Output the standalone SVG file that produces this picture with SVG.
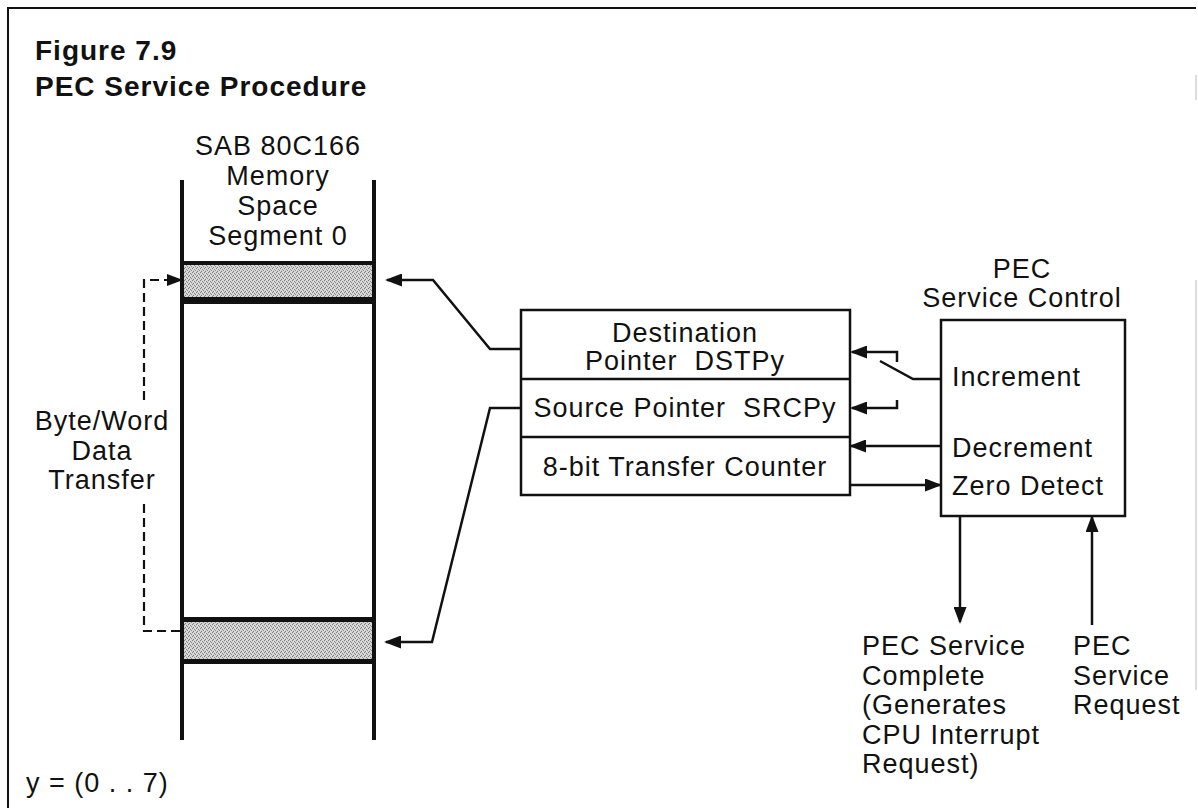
<svg xmlns="http://www.w3.org/2000/svg" width="1198" height="808" viewBox="0 0 1198 808">
<style>
  text { font-family: "Liberation Sans", Arial, Helvetica, sans-serif; font-size: 27px; letter-spacing: 1px; fill: #111; }
  .title { font-weight: bold; font-size: 28px; }
  .mid { text-anchor: middle; }
  .box { fill: #fff; stroke: #111; stroke-width: 2.5; }
  .col { stroke: #111; stroke-width: 4; fill: none; }
  .wire { stroke: #111; stroke-width: 2.5; fill: none; }
  .dash { stroke: #111; stroke-width: 2.2; fill: none; stroke-dasharray: 9 5; }
  .frame { stroke: #111; stroke-width: 2; fill: none; }
</style>
<defs>
  <pattern id="stipple" width="4" height="4" patternUnits="userSpaceOnUse">
    <rect width="4" height="4" fill="#d6d6d6"/>
    <rect x="0" y="0" width="1" height="1" fill="#7a7a7a"/>
    <rect x="2" y="1" width="1" height="1" fill="#8a8a8a"/>
    <rect x="1" y="3" width="1" height="1" fill="#7a7a7a"/>
    <rect x="3" y="2" width="1" height="1" fill="#8a8a8a"/>
  </pattern>
  <marker id="ah" viewBox="0 0 16 12" refX="14" refY="6" markerWidth="16" markerHeight="12" markerUnits="userSpaceOnUse" orient="auto">
    <path d="M0,0 L16,6 L0,12 Z" fill="#111"/>
  </marker>
  <marker id="ahs" viewBox="0 0 17 13" refX="15" refY="6.5" markerWidth="17" markerHeight="13" markerUnits="userSpaceOnUse" orient="auto">
    <path d="M0,0 L17,6.5 L0,13 Z" fill="#111"/>
  </marker>
</defs>
<rect width="1198" height="808" fill="#fff"/>

<g id="frame">
  <path class="frame" d="M8,808 V8 H1196"/>
  <path d="M1196,75 V100 M1196,280 V690" stroke="#bbb" stroke-width="1" fill="none"/>
</g>

<g id="title">
  <text class="title" x="35" y="60">Figure 7.9</text>
  <text class="title" x="35" y="96">PEC Service Procedure</text>
</g>

<g id="memory">
  <text class="mid" x="278" y="155">SAB 80C166</text>
  <text class="mid" x="278" y="185">Memory</text>
  <text class="mid" x="278" y="215">Space</text>
  <text class="mid" x="278" y="245">Segment 0</text>
  <rect x="182" y="265" width="192" height="32" fill="url(#stipple)"/>
  <rect x="182" y="622" width="192" height="37" fill="url(#stipple)"/>
  <path class="col" d="M182,180 V740 M374,180 V740"/>
  <path stroke="#111" stroke-width="4" d="M180,263 H376"/>
  <path stroke="#111" stroke-width="7" d="M180,300.5 H376"/>
  <path stroke="#111" stroke-width="5" d="M180,619.5 H376"/>
  <path stroke="#111" stroke-width="5" d="M180,661.5 H376"/>
</g>

<g id="transfer-label">
  <text class="mid" x="102" y="430">Byte/Word</text>
  <text class="mid" x="102" y="460">Data</text>
  <text class="mid" x="102" y="489">Transfer</text>
</g>

<g id="pointers">
  <rect class="box" x="521" y="310" width="329" height="185"/>
  <path class="wire" d="M521,379 H850 M521,437 H850"/>
  <text class="mid" x="685" y="342">Destination</text>
  <text class="mid" x="685" y="370" xml:space="preserve">Pointer  DSTPy</text>
  <text class="mid" x="685" y="417" xml:space="preserve">Source Pointer  SRCPy</text>
  <text class="mid" x="685" y="476">8-bit Transfer Counter</text>
</g>

<g id="pec-control">
  <text class="mid" x="1022" y="278">PEC</text>
  <text class="mid" x="1022" y="307">Service Control</text>
  <rect class="box" x="941" y="320" width="184" height="196"/>
  <text x="952" y="386">Increment</text>
  <text x="952" y="457">Decrement</text>
  <text x="952" y="495">Zero Detect</text>
</g>

<g id="complete-label">
  <text x="862" y="655">PEC Service</text>
  <text x="862" y="685">Complete</text>
  <text x="862" y="714">(Generates</text>
  <text x="862" y="744">CPU Interrupt</text>
  <text x="862" y="773">Request)</text>
</g>

<g id="request-label">
  <text x="1073" y="655">PEC</text>
  <text x="1073" y="685">Service</text>
  <text x="1073" y="714">Request</text>
</g>

<g id="note">
  <text x="26" y="792">y = (0 . . 7)</text>
</g>

<g id="connectors">
  <path class="dash" d="M180,631 H144 V500"/>
  <path class="dash" d="M144,400 V280 H181" marker-end="url(#ah)"/>
  <path class="wire" d="M521,349 H490 L433,280 H387" marker-end="url(#ahs)"/>
  <path class="wire" d="M521,408 H490 L432,642 H386" marker-end="url(#ahs)"/>
  <path class="wire" d="M941,379 H913 L880,361"/>
  <path class="wire" d="M897,362 V352 H852" marker-end="url(#ahs)"/>
  <path class="wire" d="M897,400 V408 H852" marker-end="url(#ahs)"/>
  <path class="wire" d="M941,446 H851" marker-end="url(#ahs)"/>
  <path class="wire" d="M850,485 H940" marker-end="url(#ahs)"/>
  <path class="wire" d="M960,516 V622" marker-end="url(#ahs)"/>
  <path class="wire" d="M1092,625 V517" marker-end="url(#ahs)"/>
</g>
</svg>
